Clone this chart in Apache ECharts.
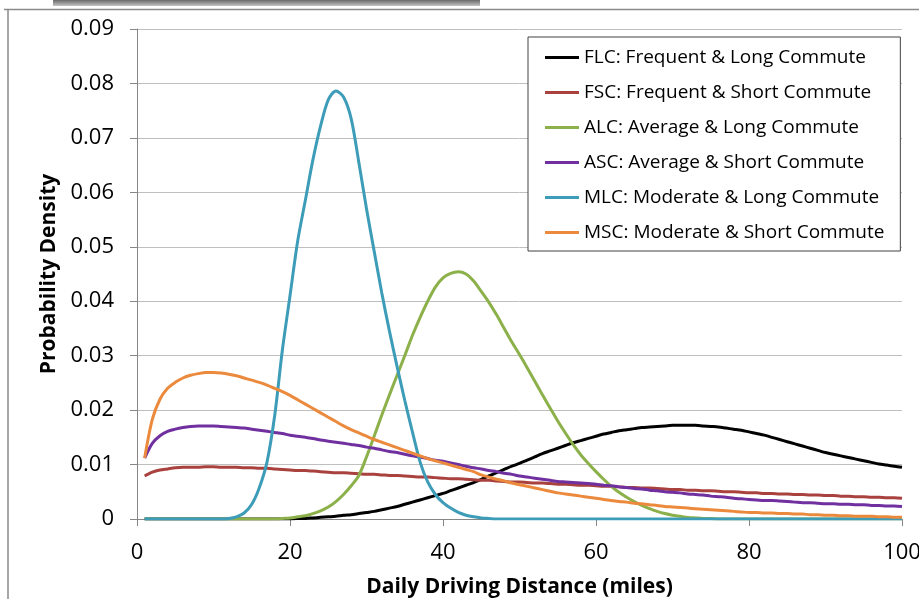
<!DOCTYPE html>
<html>
<head>
<meta charset="utf-8">
<script src="https://cdn.jsdelivr.net/npm/echarts@6/dist/echarts.min.js"></script>
<style>
html,body{margin:0;padding:0;background:#fff;}
#chart{width:919px;height:599px;}
</style>
</head>
<body>
<div id="chart"></div>
<script>
// Daily driving distance (miles)
var distances = [1,2,3,4,5,6,7,8,9,10,11,12,13,14,15,16,17,18,19,20,21,22,23,24,25,26,27,28,29,30,31,32,33,34,35,36,37,38,39,40,41,42,43,44,45,46,47,48,49,50,51,52,53,54,55,56,57,58,59,60,61,62,63,64,65,66,67,68,69,70,71,72,73,74,75,76,77,78,79,80,81,82,83,84,85,86,87,88,89,90,91,92,93,94,95,96,97,98,99,100];

var seriesNames = [
  "FLC: Frequent & Long Commute",
  "FSC: Frequent & Short Commute",
  "ALC: Average & Long Commute",
  "ASC: Average & Short Commute",
  "MLC: Moderate & Long Commute",
  "MSC: Moderate & Short Commute"
];

// each row = 10 miles (x = 1..10, 11..20, ...)
var flc = [
  0,0,0,0,0,0,0,0,0,0,
  0,0,0,0,0,0,0,0,0,0,
  0.0001,0.0001,0.0002,0.0003,0.0004,0.0005,0.0007,0.0008,0.0010,0.0012,
  0.0014,0.0017,0.0020,0.0023,0.0027,0.0031,0.0035,0.0039,0.0043,0.0047,
  0.0052,0.0057,0.0062,0.0067,0.0073,0.0079,0.0085,0.0091,0.0097,0.0102,
  0.0108,0.0114,0.0120,0.0125,0.0130,0.0135,0.0140,0.0144,0.0148,0.0152,
  0.0156,0.0159,0.0162,0.0164,0.0166,0.0168,0.0169,0.0170,0.0171,0.0172,
  0.0172,0.0172,0.0172,0.0171,0.0170,0.0169,0.0167,0.0165,0.0163,0.0160,
  0.0157,0.0154,0.0150,0.0146,0.0142,0.0138,0.0134,0.0130,0.0126,0.0122,
  0.0119,0.0116,0.0113,0.0110,0.0107,0.0104,0.0101,0.0099,0.0097,0.0095];

var fsc = [
  0.0079,0.0086,0.0090,0.0092,0.0094,0.0095,0.0095,0.0095,0.0096,0.0096,
  0.0095,0.0095,0.0095,0.0094,0.0094,0.0093,0.0093,0.0092,0.0091,0.0090,
  0.0089,0.0089,0.0088,0.0087,0.0086,0.0085,0.0085,0.0084,0.0083,0.0082,
  0.0082,0.0081,0.0080,0.0080,0.0079,0.0078,0.0077,0.0077,0.0076,0.0075,
  0.0074,0.0074,0.0073,0.0072,0.0071,0.0071,0.0070,0.0069,0.0068,0.0068,
  0.0067,0.0066,0.0066,0.0065,0.0064,0.0064,0.0063,0.0062,0.0062,0.0061,
  0.0060,0.0060,0.0059,0.0058,0.0058,0.0057,0.0057,0.0056,0.0055,0.0054,
  0.0054,0.0053,0.0053,0.0052,0.0052,0.0051,0.0050,0.0050,0.0049,0.0048,
  0.0048,0.0047,0.0047,0.0046,0.0046,0.0045,0.0045,0.0044,0.0044,0.0043,
  0.0043,0.0042,0.0042,0.0041,0.0041,0.0040,0.0040,0.0039,0.0039,0.0038];

var alc = [
  0,0,0,0,0,0,0,0,0,0,
  0,0,0,0,0,0,0,0,0.0001,0.0002,
  0.0004,0.0006,0.0010,0.0015,0.0022,0.0032,0.0045,0.0061,0.0080,0.0114,
  0.0152,0.0191,0.0228,0.0264,0.0300,0.0337,0.0370,0.0400,0.0426,0.0443,
  0.0451,0.0454,0.0450,0.0437,0.0418,0.0398,0.0375,0.0350,0.0325,0.0302,
  0.0278,0.0253,0.0228,0.0204,0.0180,0.0158,0.0137,0.0118,0.0102,0.0087,
  0.0073,0.0060,0.0049,0.0040,0.0032,0.0025,0.0019,0.0014,0.0010,0.0007,
  0.0005,0.0003,0.0002,0.0001,0.0001,0,0,0,0,0,
  0,0,0,0,0,0,0,0,0,0,
  0,0,0,0,0,0,0,0,0,0];

var asc = [
  0.0112,0.0139,0.0153,0.0161,0.0165,0.0168,0.0170,0.0171,0.0171,0.0171,
  0.0170,0.0169,0.0168,0.0167,0.0165,0.0163,0.0161,0.0159,0.0157,0.0154,
  0.0152,0.0150,0.0148,0.0145,0.0143,0.0141,0.0139,0.0137,0.0135,0.0132,
  0.0130,0.0127,0.0124,0.0122,0.0119,0.0116,0.0114,0.0111,0.0108,0.0106,
  0.0103,0.0100,0.0097,0.0094,0.0092,0.0089,0.0087,0.0084,0.0082,0.0079,
  0.0077,0.0075,0.0073,0.0071,0.0069,0.0068,0.0067,0.0066,0.0065,0.0064,
  0.0062,0.0061,0.0059,0.0058,0.0056,0.0055,0.0053,0.0052,0.0050,0.0049,
  0.0048,0.0046,0.0045,0.0044,0.0042,0.0041,0.0040,0.0038,0.0037,0.0036,
  0.0035,0.0034,0.0034,0.0033,0.0032,0.0031,0.0030,0.0030,0.0029,0.0028,
  0.0028,0.0027,0.0027,0.0026,0.0026,0.0025,0.0025,0.0024,0.0024,0.0023];

var mlc = [
  0,0,0,0,0,0,0,0,0,0,
  0,0.0001,0.0004,0.0011,0.0027,0.0058,0.0105,0.0190,0.0310,0.0410,
  0.0510,0.0585,0.0660,0.0722,0.0770,0.0786,0.0775,0.0735,0.0655,0.0570,
  0.0492,0.0415,0.0345,0.0280,0.0218,0.0160,0.0105,0.0068,0.0045,0.0030,
  0.0020,0.0012,0.0007,0.0004,0.0002,0.0001,0,0,0,0,
  0,0,0,0,0,0,0,0,0,0,
  0,0,0,0,0,0,0,0,0,0,
  0,0,0,0,0,0,0,0,0,0,
  0,0,0,0,0,0,0,0,0,0,
  0,0,0,0,0,0,0,0,0,0];

var msc = [
  0.0112,0.0183,0.0220,0.0240,0.0251,0.0259,0.0264,0.0267,0.0269,0.0269,
  0.0268,0.0266,0.0263,0.0259,0.0255,0.0251,0.0246,0.0240,0.0234,0.0227,
  0.0219,0.0211,0.0203,0.0195,0.0187,0.0179,0.0171,0.0164,0.0158,0.0152,
  0.0146,0.0141,0.0136,0.0131,0.0126,0.0121,0.0116,0.0111,0.0107,0.0103,
  0.0099,0.0095,0.0091,0.0087,0.0081,0.0077,0.0073,0.0070,0.0066,0.0063,
  0.0060,0.0057,0.0054,0.0051,0.0048,0.0046,0.0044,0.0042,0.0040,0.0038,
  0.0036,0.0034,0.0032,0.0031,0.0029,0.0028,0.0026,0.0025,0.0023,0.0022,
  0.0021,0.0020,0.0019,0.0018,0.0017,0.0016,0.0015,0.0014,0.0013,0.0012,
  0.0012,0.0011,0.0011,0.0010,0.0010,0.0009,0.0009,0.0008,0.0008,0.0007,
  0.0007,0.0006,0.0006,0.0005,0.0005,0.0005,0.0004,0.0004,0.0003,0.0003];

var colors = ["#000000", "#A9423F", "#8CB04A", "#7030A0", "#3D9CB8", "#EB8A3C"];
var allValues = [flc, fsc, alc, asc, mlc, msc];

var yTicks = [0, 0.01, 0.02, 0.03, 0.04, 0.05, 0.06, 0.07, 0.08, 0.09];
var xTicks = [0, 20, 40, 60, 80, 100];

var FONT = "Open Sans";

function pairs(vals) {
  return distances.map(function (d, i) { return [d, vals[i]]; });
}

var chart = echarts.init(document.getElementById('chart'), null, {renderer: 'canvas'});

var series = seriesNames.map(function (name, i) {
  return {
    name: name,
    type: 'line',
    data: pairs(allValues[i]),
    showSymbol: false,
    symbol: 'none',
    smooth: 0.3,
    lineStyle: {color: colors[i], width: 3},
    itemStyle: {color: colors[i]},
    animation: false
  };
});

chart.setOption({
  animation: false,
  backgroundColor: '#ffffff',
  color: colors,
  grid: {left: 137, right: 17, top: 29, bottom: 80, containLabel: false, outerBoundsMode: 'none'},
  legend: {
    orient: 'vertical',
    left: 528,
    top: 37,
    padding: [11, 16, 9, 17],
    itemWidth: 34,
    itemHeight: 3,
    itemGap: 16,
    icon: 'rect',
    borderColor: '#404040',
    borderWidth: 1,
    backgroundColor: '#ffffff',
    textStyle: {fontFamily: FONT, fontSize: 19, color: '#000', lineHeight: 19},
    data: seriesNames
  },
  xAxis: {
    type: 'value',
    min: xTicks[0],
    max: xTicks[xTicks.length - 1],
    interval: 20,
    name: 'Daily Driving Distance (miles)',
    nameLocation: 'middle',
    nameGap: 58,
    nameTextStyle: {fontFamily: FONT, fontSize: 21, fontWeight: 'bold', color: '#000'},
    axisLine: {show: true, lineStyle: {color: '#868686', width: 1}},
    axisTick: {show: true, length: 7, inside: false, lineStyle: {color: '#868686'}},
    axisLabel: {fontFamily: FONT, fontSize: 22, color: '#000', margin: 23},
    splitLine: {show: false}
  },
  yAxis: {
    type: 'value',
    min: yTicks[0],
    max: yTicks[yTicks.length - 1],
    interval: 0.01,
    name: 'Probability Density',
    nameLocation: 'middle',
    nameRotate: 90,
    nameGap: 72,
    nameTextStyle: {fontFamily: FONT, fontSize: 21, fontWeight: 'bold', color: '#000'},
    axisLine: {show: true, lineStyle: {color: '#868686', width: 1}},
    axisTick: {show: true, length: 7, inside: false, lineStyle: {color: '#868686'}},
    axisLabel: {fontFamily: FONT, fontSize: 22, color: '#000', margin: 23,
      formatter: function (v) { return String(+v.toFixed(2)); }},
    splitLine: {show: true, lineStyle: {color: '#BFBFBF', width: 1}}
  },
  graphic: [
    {type: 'rect', shape: {x: 53, y: 0, width: 427, height: 6},
     style: {fill: new echarts.graphic.LinearGradient(0, 0, 0, 1, [
       {offset: 0, color: '#6a6a6a'}, {offset: 1, color: '#c4c4c4'}])}, z: 0, silent: true},
    {type: 'line', shape: {x1: 4, y1: 9.5, x2: 919, y2: 9.5},
     style: {stroke: '#8a8a8a', lineWidth: 1.5}, silent: true},
    {type: 'line', shape: {x1: 8, y1: 9, x2: 8, y2: 599},
     style: {stroke: '#8a8a8a', lineWidth: 1.5}, silent: true}
  ],
  series: series
});
</script>
</body>
</html>
